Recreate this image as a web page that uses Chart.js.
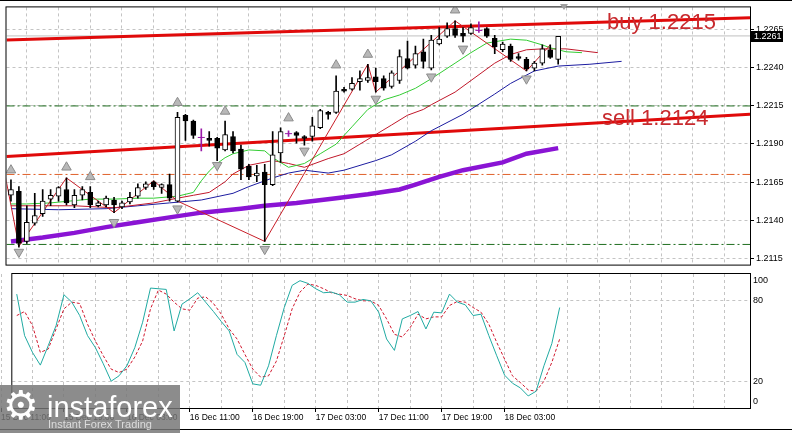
<!DOCTYPE html>
<html>
<head>
<meta charset="utf-8">
<title>EURUSD H1</title>
<script src="https://cdn.jsdelivr.net/npm/chart.js@4.4.1/dist/chart.umd.min.js"></script>
<style>
  html, body { margin: 0; padding: 0; background: #fff; }
  #wrap { position: relative; width: 792px; height: 433px; overflow: hidden; font-family: "Liberation Sans", Arial, sans-serif; }
  canvas { position: absolute; left: 0; }
  #mainChart { top: 0; }
  #stochChart { top: 272px; }
  .note { position: absolute; color: #c82a2e; font-size: 22px; line-height: 22px; white-space: nowrap; }
  .edge { position: absolute; left: 0; width: 792px; height: 1px; background: #000; }
  #shift { position: absolute; left: 560px; top: 4px; width: 0; height: 0;
           border-left: 4px solid transparent; border-right: 4px solid transparent; border-top: 6px solid #a0a0a0; }
  #logo { position: absolute; left: 0; top: 385px; width: 180px; height: 48px; background: rgba(118,118,118,0.84); }
  #logo .gear { position: absolute; left: 3px; top: 0px; font: 40px/40px "DejaVu Sans", sans-serif; color: #fff; }
  #logo .brand { position: absolute; left: 47px; top: 8px; font-size: 29px; line-height: 29px; color: #fff; }
  #logo .tag { position: absolute; left: 48px; top: 34px; font-size: 11px; line-height: 11px; color: #dcdcdc; }
</style>
</head>
<body>
<div id="wrap">
  <canvas id="mainChart" width="792" height="272"></canvas>
  <canvas id="stochChart" width="792" height="161"></canvas>
  <div class="edge" style="top:0"></div>
  <div class="edge" style="top:429px"></div>
  <div id="shift"></div>
  <div class="note" style="left:607px; top:11px">buy 1.2215</div>
  <div class="note" style="left:602px; top:107px">sell 1.2124</div>
  <div id="logo">
    <span class="gear">&#9881;</span>
    <span class="brand">instaforex</span>
    <span class="tag">Instant Forex Trading</span>
  </div>
</div>
<script>
// ===================== Data (EURUSD H1, one entry per bar) =====================
const openP = [1.21563,1.21589,1.21260,1.21380,1.21443,1.21538,1.21557,1.21601,1.21500,1.21563,
  1.21582,1.21494,1.21500,1.21532,1.21487,1.21519,1.21557,1.21614,1.21652,1.21614,
  1.21633,1.21525,1.22089,1.22051,1.21943,1.21937,1.21937,1.21861,1.21949,1.21867,
  1.21753,1.21690,1.21715,1.21633,1.21842,1.21968,1.21975,1.21949,1.21949,1.22007,
  1.22108,1.22108,1.22260,1.22260,1.22310,1.22317,1.22342,1.22329,1.22279,1.22317,
  1.22462,1.22418,1.22506,1.22399,1.22557,1.22608,1.22658,1.22627,1.22627,1.22646,
  1.22658,1.22595,1.22519,1.22544,1.22475,1.22456,1.22399,1.22431,1.22519,1.22456];
const highP = [1.21665,1.21620,1.21494,1.21576,1.21601,1.21601,1.21620,1.21677,1.21601,1.21620,
  1.21620,1.21525,1.21557,1.21550,1.21525,1.21582,1.21639,1.21652,1.21658,1.21639,
  1.21703,1.22108,1.22095,1.22057,1.22000,1.21981,1.21943,1.22051,1.21981,1.21893,
  1.21766,1.21760,1.21766,1.21981,1.22007,1.21987,1.21981,1.21956,1.22076,1.22127,
  1.22114,1.22348,1.22272,1.22336,1.22380,1.22424,1.22399,1.22348,1.22380,1.22519,
  1.22576,1.22544,1.22589,1.22614,1.22665,1.22696,1.22709,1.22665,1.22690,1.22703,
  1.22665,1.22614,1.22570,1.22557,1.22494,1.22469,1.22443,1.22551,1.22551,1.22608];
const lowP = [1.21525,1.21222,1.21247,1.21367,1.21424,1.21494,1.21525,1.21500,1.21481,1.21532,
  1.21481,1.21487,1.21487,1.21449,1.21475,1.21506,1.21544,1.21601,1.21601,1.21576,
  1.21525,1.21519,1.21924,1.21937,1.21855,1.21886,1.21791,1.21855,1.21842,1.21665,
  1.21665,1.21652,1.21260,1.21627,1.21779,1.21949,1.21905,1.21893,1.21918,1.22000,
  1.22063,1.22101,1.22241,1.22253,1.22253,1.22304,1.22241,1.22253,1.22266,1.22298,
  1.22393,1.22399,1.22399,1.22386,1.22551,1.22601,1.22601,1.22570,1.22620,1.22633,
  1.22601,1.22494,1.22506,1.22443,1.22450,1.22380,1.22380,1.22418,1.22462,1.22424];
const closeP = [1.21601,1.21247,1.21386,1.21430,1.21525,1.21563,1.21614,1.21513,1.21563,1.21601,
  1.21500,1.21513,1.21544,1.21500,1.21513,1.21550,1.21614,1.21639,1.21620,1.21633,
  1.21544,1.22076,1.22051,1.21956,1.21943,1.21924,1.21873,1.21962,1.21855,1.21734,
  1.21684,1.21709,1.21633,1.21829,1.21981,1.21968,1.21956,1.21937,1.22019,1.22120,
  1.22095,1.22247,1.22247,1.22298,1.22329,1.22336,1.22310,1.22266,1.22367,1.22475,
  1.22399,1.22494,1.22443,1.22582,1.22589,1.22658,1.22614,1.22608,1.22665,1.22646,
  1.22608,1.22538,1.22557,1.22456,1.22462,1.22393,1.22431,1.22525,1.22469,1.22608];

// Alligator (lips / teeth / jaw, shifted forward), read at sample bars
const lipsBars = [0,2,5,10,13,16,18,21,23,24,25,26,27,28,30,32,33,35,37,39,41,43,45,47,49,51,53,56,58,60,63,65,67,68,70,72];
const lipsVals = [1.21506,1.21506,1.21513,1.21538,1.21538,1.21544,1.21544,1.21557,1.21582,1.21658,
  1.21722,1.21772,1.21810,1.21836,1.21861,1.21855,1.21810,1.21747,1.21772,1.21836,
  1.21899,1.22013,1.22127,1.22190,1.22222,1.22266,1.22329,1.22431,1.22500,1.22563,
  1.22589,1.22582,1.22551,1.22532,1.22506,1.22500];
const teethBars = [0,8,13,18,21,23,25,27,28,30,33,35,37,40,42,44,46,48,50,52,53,56,58,61,63,65,67,70,74];
const teethVals = [1.21494,1.21494,1.21481,1.21513,1.21544,1.21563,1.21582,1.21652,1.21703,1.21760,
  1.21791,1.21772,1.21747,1.21804,1.21836,1.21899,1.21962,1.22025,1.22089,1.22127,
  1.22158,1.22241,1.22317,1.22431,1.22488,1.22519,1.22525,1.22525,1.22500];
const jawBars = [0,6,12,16,20,24,28,30,33,35,37,40,42,46,48,51,53,57,61,63,66,69,73,77];
const jawVals = [1.21475,1.21468,1.21475,1.21494,1.21513,1.21532,1.21576,1.21620,1.21677,1.21709,
  1.21728,1.21709,1.21728,1.21791,1.21829,1.21918,1.21987,1.22095,1.22228,1.22298,
  1.22380,1.22412,1.22424,1.22443];

// slow moving average (thick violet)
const maBars = [0,4,8,12,16,20,24,29,32,36,41,45,49,51,54,57,62,65,69];
const maVals = [1.21260,1.21285,1.21316,1.21354,1.21386,1.21418,1.21449,1.21475,1.21494,1.21513,
  1.21544,1.21570,1.21601,1.21633,1.21684,1.21728,1.21779,1.21836,1.21873];

// ZigZag turning points
const zzBars = [-1,1,7,13,18,21,32,45,46,56,65,68];
const zzVals = [1.21766,1.21228,1.21677,1.21449,1.21658,1.21525,1.21260,1.22424,1.22241,1.22709,1.22380,1.22551];

// fractal arrows
const upBars = [0,7,10,21,27,35,41,45,56];
const upVals = [1.21728,1.21747,1.21684,1.22171,1.22114,1.22070,1.22418,1.22488,1.22779];
const dnBars = [1,13,21,26,32,37,46,53,57,65];
const dnVals = [1.21190,1.21386,1.21475,1.21760,1.21209,1.21855,1.22196,1.22342,1.22525,1.22329];

// trend channel (value at left and right edge)
const trendBars = [-0.5625, 93.1875];
const buyLine = [1.22584, 1.22730];
const sellLine = [1.21818, 1.22095];

// horizontal levels and bid
const levelVals = [1.2215, 1.2124, 1.2170];
const levelColors = ["#1f6e1f", "#1f6e1f", "#e0602a"];
const bid = 1.2261;

// Stochastic (main / signal)
const stochMain = [85,54,41.5,32,46.5,61.5,84.5,79,69,54,
  45,33,20,24,31.5,45,64,89.5,89,88.5,
  57.5,77.5,81.5,86,79,72,64.5,57.5,40,34,
  18,17,31.5,54,75,91.5,95,93,89,86,
  86.5,84.5,79,79,81,80,71.5,51.5,43,66.5,
  69,72,59,71.5,71,85,79,77,69,70,
  54,39,24.5,18.5,15,9,12.5,31.5,48,75];
const stochSignal = [69,72,61.5,41.5,44,59,74,79,78,62.5,
  50,39,29,26.5,29,38,50,74,88,85,
  79,74,73,82,83,78,70,59,51.5,40,
  29,23,24,35,54,74,86.5,92.5,91.5,89,
  86,85,84,81.5,80,80,76.5,66.5,55,53,
  60,70,66.5,68,68,76.5,79.5,79,75,71.5,
  62.5,49,36.5,24,19,13.5,12.5,20,34,51.5];

// axes
const priceTicks = [1.2115, 1.2140, 1.2165, 1.2190, 1.2215, 1.2240, 1.2265];
const stochLevels = [0, 20, 80, 100];
const labelBars = [-2, 6, 14, 22, 30, 38, 46, 54, 62];
const timeLabels = ["15 Dec 11:00", "15 Dec 19:00", "16 Dec 03:00", "16 Dec 11:00", "16 Dec 19:00",
  "17 Dec 03:00", "17 Dec 11:00", "17 Dec 19:00", "18 Dec 03:00"];

// ===================== Helpers =====================
const FONT = '"Liberation Sans", Arial, sans-serif';
const X_MIN = -0.5625, X_MAX = 93.1875;
const Y_MAX = 1.227975, Y_MIN = 1.211076;
const GRID = "#c4c4c4";

const pts = (xs, ys) => xs.map((x, i) => ({ x, y: ys[i] }));
const bars = openP.map((_, i) => i);
const isDoji = i => openP[i] === closeP[i];

function gridBars() {
  const t = [];
  for (let b = 2; b <= X_MAX; b += 4) t.push(b);
  return t;
}

function lineSet(data, color, width, order, extra) {
  return Object.assign({
    type: "line", data, borderColor: color, borderWidth: width,
    pointRadius: 0, tension: 0, fill: false, order
  }, extra || {});
}

const frame = {
  id: "frame",
  afterDraw(chart) {
    const { ctx, chartArea: a } = chart;
    ctx.save();
    ctx.strokeStyle = "#000";
    ctx.lineWidth = 1;
    ctx.strokeRect(a.left - 0.5, a.top - 0.5, a.right - a.left + 1, a.bottom - a.top + 1);
    ctx.restore();
  }
};

// bid price box on the price axis
const bidBox = {
  id: "bidBox",
  afterDraw(chart) {
    const { ctx, chartArea: a, scales: { y } } = chart;
    const py = Math.round(y.getPixelForValue(bid));
    ctx.save();
    ctx.fillStyle = "#000";
    ctx.fillRect(a.right + 1, py - 5, 32, 11);
    ctx.fillStyle = "#fff";
    ctx.font = "9px " + FONT;
    ctx.textBaseline = "middle";
    ctx.fillText(bid.toFixed(4), a.right + 4, py + 0.5);
    ctx.restore();
  }
};

// stochastic level labels kept inside the window
const stochLabels = {
  id: "stochLabels",
  afterDraw(chart) {
    const { ctx, chartArea: a, scales: { y } } = chart;
    ctx.save();
    ctx.fillStyle = "#000";
    ctx.font = "9px " + FONT;
    ctx.textBaseline = "middle";
    stochLevels.forEach(v => {
      const py = Math.min(Math.max(y.getPixelForValue(v), a.top + 7), a.bottom - 6);
      ctx.fillText(String(v), a.right + 3, py);
    });
    ctx.restore();
  }
};

function xAxis(withLabels) {
  return {
    type: "linear", min: X_MIN, max: X_MAX, offset: false,
    afterBuildTicks: s => {
      const vals = withLabels ? [...new Set([...labelBars, ...gridBars()])].sort((a, b) => a - b) : gridBars();
      s.ticks = vals.map(v => ({ value: v }));
    },
    afterFit: s => { s.height = withLabels ? 25 : 0; },
    grid: {
      color: GRID, offset: false, drawTicks: withLabels, tickLength: 4,
      tickColor: c => (c.tick && labelBars.includes(c.tick.value)) ? "#000" : "rgba(0,0,0,0)"
    },
    border: { display: false, dash: [3, 3] },
    ticks: {
      display: withLabels, autoSkip: false, maxRotation: 0, align: "start", padding: 1,
      font: { family: FONT, size: 8.5 }, color: "#000",
      callback: v => { const k = labelBars.indexOf(v); return k < 0 ? "" : timeLabels[k]; }
    }
  };
}

const common = {
  responsive: false,
  animation: false,
  events: [],
  plugins: { legend: { display: false }, tooltip: { enabled: false } }
};

// ===================== Main price chart =====================
const mainSets = [];
levelVals.forEach((v, i) => {
  mainSets.push(lineSet(pts([X_MIN, X_MAX], [v, v]), levelColors[i], 1, 20, { borderDash: [8, 3, 2, 3] }));
});
mainSets.push(lineSet(pts([X_MIN, X_MAX], [bid, bid]), "#c0c0c0", 1, 19));
mainSets.push(lineSet(pts(trendBars, buyLine), "#e00a0a", 3, 18));
mainSets.push(lineSet(pts(trendBars, sellLine), "#e00a0a", 3, 18));
mainSets.push(lineSet(pts(maBars, maVals), "#8a14d4", 4.5, 17));
mainSets.push(lineSet(pts(jawBars, jawVals), "#1c1ca0", 1, 16));
mainSets.push(lineSet(pts(teethBars, teethVals), "#c0182a", 1, 15));
mainSets.push(lineSet(pts(lipsBars, lipsVals), "#33cc33", 1, 14));
mainSets.push(lineSet(pts(zzBars, zzVals), "#c81e28", 1, 13));
mainSets.push(lineSet(pts(upBars, upVals), "#8c8c8c", 1, 12, {
  showLine: false, pointStyle: "triangle", pointRadius: 5.5, pointBackgroundColor: "#b8b8b8", pointBorderColor: "#8c8c8c"
}));
mainSets.push(lineSet(pts(dnBars, dnVals), "#8c8c8c", 1, 12, {
  showLine: false, pointStyle: "triangle", pointRotation: 180, pointRadius: 5.5, pointBackgroundColor: "#b8b8b8", pointBorderColor: "#8c8c8c"
}));
// candle wicks
mainSets.push({
  type: "bar", order: 3, grouped: false, barThickness: 1,
  data: bars.map(i => ({ x: i, y: [lowP[i], highP[i]] })),
  backgroundColor: c => isDoji(c.dataIndex) ? "#9a1aa8" : "#000"
});
// candle bodies
mainSets.push({
  type: "bar", order: 2, grouped: false, barThickness: 5, borderWidth: 1, borderSkipped: false,
  data: bars.map(i => ({ x: i, y: [openP[i], closeP[i]] })),
  borderColor: "#000",
  backgroundColor: c => closeP[c.dataIndex] > openP[c.dataIndex] ? "#fff" : "#000"
});
// doji crosses
const dojiBars = bars.filter(isDoji);
mainSets.push(lineSet(pts(dojiBars, dojiBars.map(i => openP[i])), "#9a1aa8", 1, 1, {
  showLine: false, pointStyle: "line", pointRadius: 3.5, pointBorderColor: "#9a1aa8", pointBorderWidth: 1
}));

new Chart(document.getElementById("mainChart"), {
  type: "line",
  data: { datasets: mainSets },
  options: Object.assign({}, common, {
    layout: { padding: { top: 4, bottom: 1, left: 0, right: 0 } },
    scales: {
      x: xAxis(false),
      y: {
        position: "right", min: Y_MIN, max: Y_MAX,
        afterBuildTicks: s => { s.ticks = priceTicks.map(v => ({ value: v })); },
        afterFit: s => { s.width = 42; },
        grid: { color: GRID, tickLength: 4, tickColor: "#000" },
        border: { display: false, dash: [3, 3] },
        ticks: { autoSkip: false, padding: 2, font: { family: FONT, size: 9 }, color: "#000", callback: v => v.toFixed(4) }
      }
    }
  }),
  plugins: [frame, bidBox]
});

// ===================== Stochastic window =====================
new Chart(document.getElementById("stochChart"), {
  type: "line",
  data: {
    datasets: [
      lineSet(pts(bars, stochSignal), "#d0182e", 1, 2, { borderDash: [3, 2] }),
      lineSet(pts(bars, stochMain), "#20aaa2", 1, 1)
    ]
  },
  options: Object.assign({}, common, {
    layout: { padding: { top: 2, bottom: 0, left: 0, right: 0 } },
    scales: {
      x: xAxis(true),
      y: {
        position: "right", min: 0, max: 100,
        afterBuildTicks: s => { s.ticks = [20, 80].map(v => ({ value: v })); },
        afterFit: s => { s.width = 42; },
        grid: { color: GRID, drawTicks: false },
        border: { display: false, dash: [3, 3] },
        ticks: { display: false }
      }
    }
  }),
  plugins: [frame, stochLabels]
});
</script>
</body>
</html>
